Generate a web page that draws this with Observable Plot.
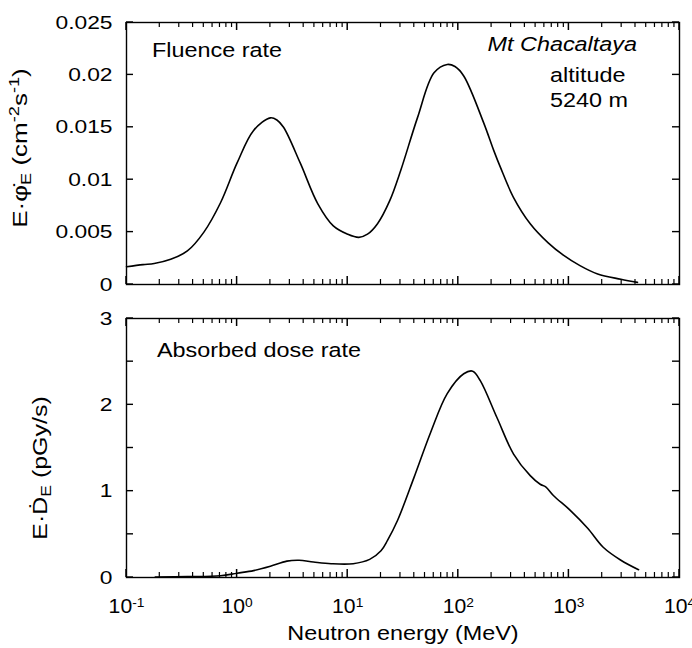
<!DOCTYPE html>
<html><head><meta charset="utf-8">
<script src="https://cdn.jsdelivr.net/npm/d3@7"></script>
<script src="https://cdn.jsdelivr.net/npm/@observablehq/plot@0.6"></script>
<style>
body{margin:0;background:#fff;}
#chart{position:relative;width:692px;height:648px;background:#fff;}
#chart svg{position:absolute;left:0;overflow:visible;}
</style></head><body><div id="chart"></div><script>
// Fluence rate spectrum (E in MeV, E·dφ/dE in cm^-2 s^-1)
const fluenceE = [0.1, 0.141, 0.178, 0.251, 0.355, 0.501, 0.708, 1, 1.41, 2.0, 2.29, 2.63, 3.72, 5.37, 7.41, 10, 12.6, 15.1, 18.6, 24, 30.2, 42.7, 60.3, 79.4, 93.3, 112, 170, 209, 240, 316, 447, 646, 891, 1259, 1820, 2951, 4169];
const fluenceRate = [0.0017, 0.0019, 0.0020, 0.0024, 0.0032, 0.0050, 0.0078, 0.0116, 0.0147, 0.0159, 0.0157, 0.0150, 0.0116, 0.0077, 0.0056, 0.0048, 0.0045, 0.0048, 0.0058, 0.0080, 0.0109, 0.0159, 0.0202, 0.0210, 0.0208, 0.0199, 0.0154, 0.0128, 0.0112, 0.0083, 0.0058, 0.0040, 0.0028, 0.0018, 0.0010, 0.0005, 0.0002];
// Absorbed dose rate spectrum (E in MeV, pGy/s)
const doseE = [0.182, 0.355, 0.708, 1, 1.41, 2.0, 2.82, 3.63, 4.9, 7.08, 11.2, 15.8, 20.0, 22.9, 28.2, 39.8, 56.2, 79.4, 112, 135, 158, 224, 316, 447, 550, 617, 724, 1023, 1479, 2042, 2951, 4266];
const doseRate = [0.005, 0.01, 0.02, 0.05, 0.08, 0.13, 0.19, 0.20, 0.18, 0.16, 0.16, 0.21, 0.31, 0.43, 0.66, 1.16, 1.68, 2.13, 2.36, 2.39, 2.28, 1.85, 1.43, 1.18, 1.08, 1.05, 0.95, 0.78, 0.57, 0.35, 0.20, 0.09];

const decadeTicks = [0.1, 1, 10, 100, 1000, 10000];
const decadeExponents = ["-1", "0", "1", "2", "3", "4"];
const minorMultipliers = [2, 3, 4, 5, 6, 7, 8, 9];
const minorTicks = decadeTicks.slice(0, -1).flatMap(d => minorMultipliers.map(k => +(d * k).toPrecision(3)));
const fluenceTicks = [0, 0.005, 0.01, 0.015, 0.02, 0.025];
const fluenceTickLabels = ["0", "0.005", "0.01", "0.015", "0.02", "0.025"];
const doseTicks = [0, 1, 2, 3];
const doseTickLabels = ["0", "1", "2", "3"];
const doseMinorTicks = [0.5, 1.5, 2.5];

const FONT = "Liberation Sans, Arial, Helvetica, sans-serif";
const W = 692, L = 126, R = 13;
const X0 = 0.1, X1 = 10000;

function panel({height, top, bottom, yDomain, yTicks, yTickLabels, data, showX}) {
  const marks = [
    Plot.axisY({ticks: yTicks, tickSize: 0, tickPadding: 14, tickFormat: d => yTickLabels[yTicks.indexOf(d)], label: null, fontSize: 19}),
    Plot.line(data, {x: "E", y: "v", stroke: "black", strokeWidth: 1.6, curve: "catmull-rom"}),
    Plot.frame({stroke: "black", strokeWidth: 1.4})
  ];
  if (showX) marks.push(Plot.axisX({ticks: decadeTicks, tickSize: 0, tickPadding: 21, tickFormat: d => decadeExponents[decadeTicks.indexOf(d)], label: null, fontSize: 20}));
  return Plot.plot({
    width: W, height, marginLeft: L, marginRight: R, marginTop: top, marginBottom: bottom,
    style: {fontFamily: FONT, color: "black", background: "transparent", overflow: "visible"},
    x: {type: "log", domain: [X0, X1], axis: showX ? undefined : null},
    y: {domain: yDomain},
    marks
  });
}

// inward frame ticks on all four sides, positioned by the plot's own scales
function frameTicks(svg, {height, top, bottom, yAll}) {
  const xs = svg.scale("x"), ys = svg.scale("y");
  const g = d3.select(svg).append("g").attr("aria-label", "frame ticks").attr("stroke", "black").attr("fill", "none");
  const yb = height - bottom, yt = top, xl = L, xr = W - R;
  const seg = (x1, y1, x2, y2, w) => g.append("line").attr("x1", x1).attr("y1", y1).attr("x2", x2).attr("y2", y2).attr("stroke-width", w);
  for (const [arr, len, w] of [[decadeTicks, 8, 1.5], [minorTicks, 5, 1.2]]) {
    for (const v of arr) {
      const x = xs.apply(v);
      seg(x, yb, x, yb - len, w);
      seg(x, yt, x, yt + len, w);
    }
  }
  for (const v of yAll) {
    const y = ys.apply(v);
    seg(xl, y, xl + 7, y, 1.4);
    seg(xr, y, xr - 7, y, 1.4);
  }
}

// horizontally stretch a Plot-made text element about its anchor (reference font is wide)
function stretch(node, s) {
  const tr = node.getAttribute("transform");
  if (tr) node.setAttribute("transform", tr + ` scale(${s},1)`);
  else {
    const x = +node.getAttribute("x") || 0, y = +node.getAttribute("y") || 0;
    node.removeAttribute("x"); node.removeAttribute("y");
    node.setAttribute("transform", `translate(${x},${y}) scale(${s},1)`);
  }
}

const chart = document.getElementById("chart");
const p1 = {height: 300, top: 22, bottom: 16};
const svg1 = panel({...p1, yDomain: [0, 0.025], yTicks: fluenceTicks, yTickLabels: fluenceTickLabels,
  data: fluenceE.map((E, i) => ({E, v: fluenceRate[i]})), showX: false});
svg1.style.top = "0px";
chart.appendChild(svg1);
frameTicks(svg1, {...p1, yAll: fluenceTicks});

const p2 = {height: 348, top: 18, bottom: 71};
const svg2 = panel({...p2, yDomain: [0, 3], yTicks: doseTicks, yTickLabels: doseTickLabels,
  data: doseE.map((E, i) => ({E, v: doseRate[i]})), showX: true});
svg2.style.top = "300px";
chart.appendChild(svg2);
frameTicks(svg2, {...p2, yAll: doseTicks.concat(doseMinorTicks)});

for (const svg of [svg1, svg2]) {
  d3.select(svg).selectAll('g[aria-label="y-axis tick label"] text').each(function () { stretch(this, 1.2); });
}
// superscript exponents on the x tick labels
d3.select(svg2).selectAll('g[aria-label="x-axis tick label"] text').each(function () {
  const e = this.textContent;
  const t = d3.select(this);
  t.text("10");
  t.append("tspan").attr("dy", "-0.45em").attr("font-size", "13px").text(e);
  stretch(this, 1.06);
});

function addText(svg, x, y, parts, opts = {}) {
  const s = opts.stretch || 1.2;
  const t = d3.select(svg).append("text")
    .attr("transform", `translate(${x},${y})${opts.rotate ? " rotate(-90)" : ""} scale(${s},1)`)
    .attr("font-family", FONT).attr("font-size", opts.size || 19.5)
    .attr("fill", "black")
    .attr("text-anchor", opts.anchor || "start");
  if (opts.italic) t.attr("font-style", "italic");
  for (const p of parts) {
    const sp = t.append("tspan").text(p.t);
    if (p.sub) sp.attr("baseline-shift", "-0.3em").attr("font-size", opts.subSize || 14);
    if (p.sup) sp.attr("baseline-shift", "0.55em").attr("font-size", opts.subSize || 14);
  }
  return t;
}

addText(svg1, 152, 57, [{t: "Fluence rate"}]);
addText(svg1, 637, 51, [{t: "Mt Chacaltaya"}], {anchor: "end", italic: true});
addText(svg1, 550, 82, [{t: "altitude"}]);
addText(svg1, 550, 107, [{t: "5240 m"}]);
addText(svg1, 27, 148, [{t: "E·φ\u0307"}, {t: "E", sub: true}, {t: " (cm"}, {t: "-2", sup: true}, {t: "s"}, {t: "-1", sup: true}, {t: ")"}], {anchor: "middle", rotate: true, size: 20, stretch: 1.3});

addText(svg2, 157, 57, [{t: "Absorbed dose rate"}]);
addText(svg2, 47, 168, [{t: "E·Ḋ"}, {t: "E", sub: true}, {t: " (pGy/s)"}], {anchor: "middle", rotate: true, size: 20, stretch: 1.25});
addText(svg2, 403, 340, [{t: "Neutron energy (MeV)"}], {anchor: "middle", size: 20, stretch: 1.17});
</script></body></html>
